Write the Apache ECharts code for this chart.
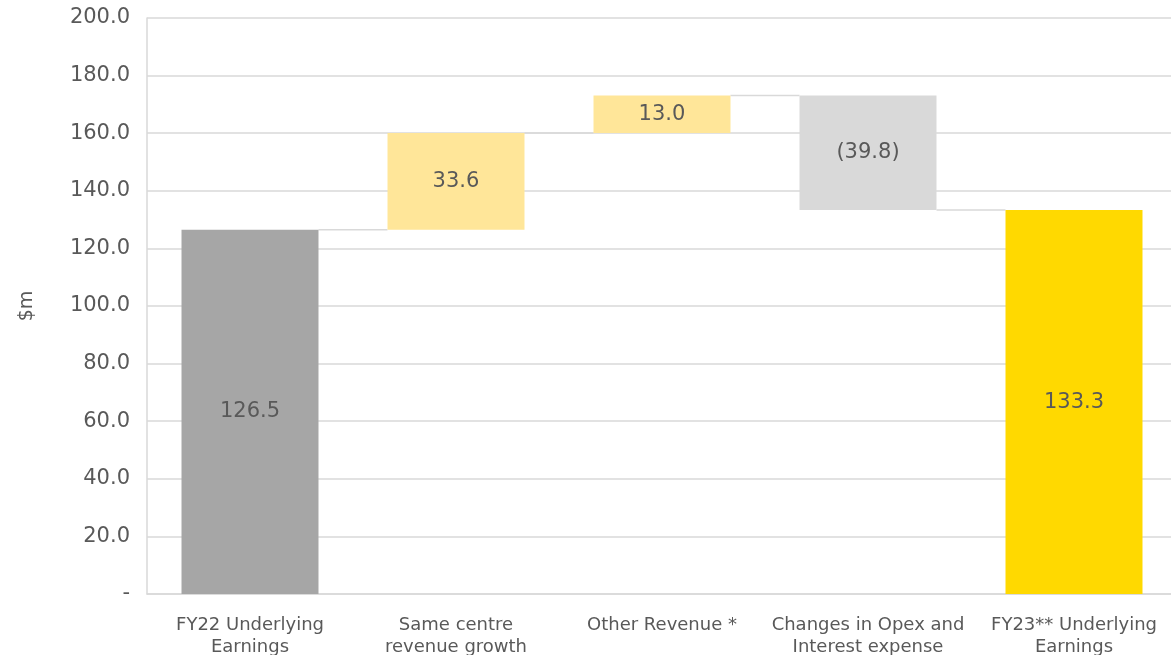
<!DOCTYPE html>
<html><head><meta charset="utf-8">
<script src="https://cdn.jsdelivr.net/npm/echarts@6/dist/echarts.min.js"></script>
<style>html,body{margin:0;padding:0;background:#fff}#c{width:1171px;height:655px}</style>
</head><body><div id="c"></div>
<script>
const categories = ['FY22 Underlying\nEarnings', 'Same centre\nrevenue growth', 'Other Revenue *', 'Changes in Opex and\nInterest expense', 'FY23** Underlying\nEarnings'];
const values = [126.5, 33.6, 13.0, -39.8, 133.3];
const kinds = ['total', 'delta', 'delta', 'delta', 'total'];
const yTicks = { min: 0, max: 200, interval: 20 };

const colorTotalStart = '#a6a6a6', colorUp = '#ffe699', colorDown = '#d9d9d9', colorTotalEnd = '#ffd900';

// build waterfall bases
const bases = [], heights = [], ends = [];
let run = 0;
values.forEach((v, i) => {
  if (kinds[i] === 'total') { bases.push(0); heights.push(v); run = v; }
  else if (v >= 0) { bases.push(run); heights.push(v); run += v; }
  else { bases.push(run + v); heights.push(-v); run += v; }
  ends.push(kinds[i] === 'total' ? v : run);
});
const colors = values.map((v, i) => i === 0 ? colorTotalStart : (i === values.length - 1 ? colorTotalEnd : (v >= 0 ? colorUp : colorDown)));
const labels = values.map(v => v < 0 ? '(' + Math.abs(v).toFixed(1) + ')' : v.toFixed(1));
const BAR_FRAC = 0.665;

const chart = echarts.init(document.getElementById('c'));
chart.setOption({
  animation: false,
  textStyle: { fontFamily: '"DejaVu Sans", sans-serif' },
  grid: { left: 147, width: 1030, top: 18, bottom: 61, containLabel: false, outerBoundsMode: 'none' },
  xAxis: {
    type: 'category', data: categories,
    axisLine: { show: true, lineStyle: { color: '#d9d9d9', width: 1.5 } },
    axisTick: { show: false },
    axisLabel: { color: '#595959', fontSize: 18, margin: 20, lineHeight: 22, interval: 0 }
  },
  yAxis: {
    type: 'value', min: yTicks.min, max: yTicks.max, interval: yTicks.interval,
    name: '$m', nameLocation: 'middle', nameRotate: 90, nameGap: 110,
    nameTextStyle: { color: '#595959', fontSize: 19 },
    axisLine: { show: true, lineStyle: { color: '#d9d9d9', width: 1.5 } },
    axisTick: { show: false },
    splitLine: { lineStyle: { color: '#d9d9d9', width: 1.5 } },
    axisLabel: { color: '#595959', fontSize: 21, margin: 17, formatter: v => v === 0 ? '-' : v.toFixed(1) }
  },
  series: [
    { type: 'bar', stack: 'w', data: bases, barWidth: (BAR_FRAC * 100) + '%',
      itemStyle: { color: 'transparent' }, silent: true },
    { type: 'bar', stack: 'w', barWidth: (BAR_FRAC * 100) + '%',
      data: heights.map((h, i) => ({ value: h, itemStyle: { color: colors[i] } })),
      label: { show: true, position: 'inside', color: '#595959', fontSize: 21,
        formatter: p => labels[p.dataIndex] } },
    { type: 'custom', silent: true, z: 1,
      data: ends.slice(0, -1).map((e, i) => [i, e]),
      renderItem: (params, api) => {
        const i = api.value(0), lvl = api.value(1);
        const p1 = api.coord([i, lvl]), p2 = api.coord([i + 1, lvl]);
        const bw = api.size([1, 0])[0] * BAR_FRAC / 2;
        return { type: 'line', shape: { x1: p1[0] + bw, y1: p1[1], x2: p2[0] - bw, y2: p2[1] },
          style: { stroke: '#d9d9d9', lineWidth: 1.5 } };
      } }
  ]
});
</script></body></html>
